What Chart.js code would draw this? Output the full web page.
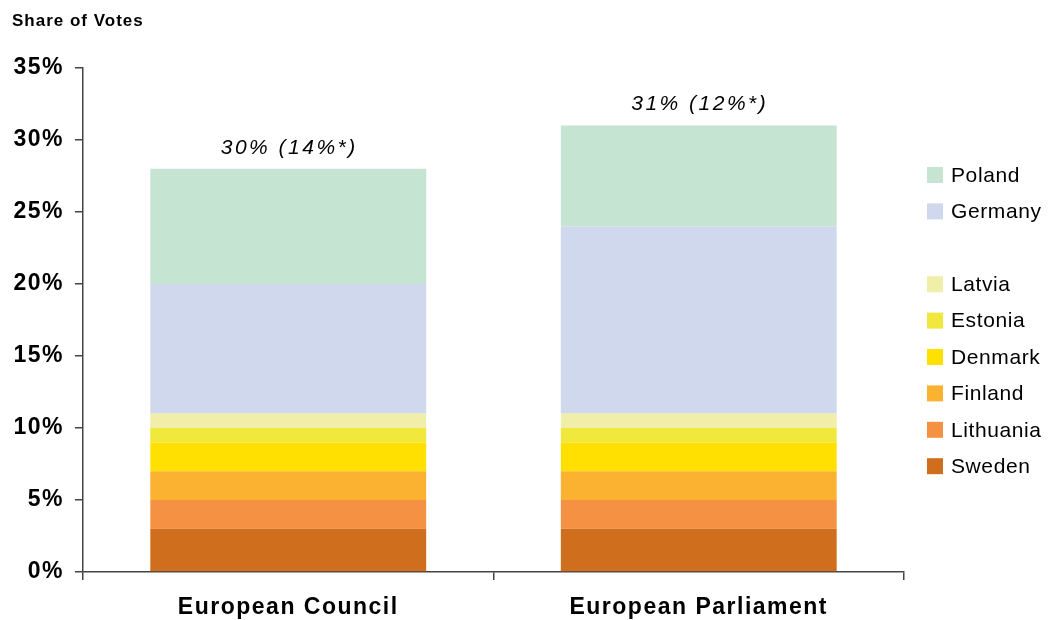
<!DOCTYPE html>
<html>
<head>
<meta charset="utf-8">
<script src="https://cdn.jsdelivr.net/npm/chart.js@4/dist/chart.umd.min.js"></script>
<style>
  html, body { margin: 0; padding: 0; background: #ffffff; }
  #wrap { width: 1055px; height: 620px; position: relative; }
</style>
</head>
<body>
<div id="wrap"><canvas id="chart"></canvas></div>
<script>
// Institutions compared
const categories = ['European Council', 'European Parliament'];

// Share of votes per country (%), bottom to top of each stack
const sweden    = [3, 3];
const lithuania = [2, 2];
const finland   = [2, 2];
const denmark   = [2, 2];
const estonia   = [1, 1];
const latvia    = [1, 1];
const germany   = [9, 13];
const poland    = [8, 7];

// Headline labels above each stack
const totalLabels = ['30% (14%*)', '31% (12%*)'];

// Legend layout: two groups separated by a blank row
const legendGroups = [
  ['Poland', 'Germany'],
  ['Latvia', 'Estonia', 'Denmark', 'Finland', 'Lithuania', 'Sweden']
];

const FONT = '"Liberation Sans", Arial, Helvetica, sans-serif';

const series = [
  { label: 'Sweden',    data: sweden,    color: '#cf6e1d' },
  { label: 'Lithuania', data: lithuania, color: '#f49142' },
  { label: 'Finland',   data: finland,   color: '#fcb231' },
  { label: 'Denmark',   data: denmark,   color: '#ffe000' },
  { label: 'Estonia',   data: estonia,   color: '#f0e83c' },
  { label: 'Latvia',    data: latvia,    color: '#f0eea8' },
  { label: 'Germany',   data: germany,   color: '#cfd8ec' },
  { label: 'Poland',    data: poland,    color: '#c6e4d2' }
];

// Widen letter spacing for axis text and draw the free-standing labels
const decorations = {
  id: 'decorations',
  beforeDraw(chart) {
    chart.ctx.letterSpacing = '1.5px';
  },
  afterDraw(chart) {
    const ctx = chart.ctx;
    const xs = chart.scales.x, ys = chart.scales.y;
    ctx.save();

    // Axis caption
    ctx.letterSpacing = '1px';
    ctx.fillStyle = '#000';
    ctx.font = 'bold 17px ' + FONT;
    ctx.textAlign = 'left';
    ctx.textBaseline = 'middle';
    ctx.fillText('Share of Votes', 12, 21);

    // Labels above each stack
    ctx.letterSpacing = '2.5px';
    ctx.font = 'italic 21px ' + FONT;
    ctx.textAlign = 'center';
    categories.forEach((c, i) => {
      const total = series.reduce((s, d) => s + d.data[i], 0);
      const x = xs.getPixelForValue(i);
      const y = ys.getPixelForValue(total) - 21;
      ctx.fillText(totalLabels[i], x + 1, y);
    });

    // Legend
    ctx.letterSpacing = '0.6px';
    ctx.font = '21px ' + FONT;
    ctx.textAlign = 'left';
    const step = 36.4;
    let y = 175;
    legendGroups.forEach((group, g) => {
      if (g > 0) y += step;
      group.forEach(name => {
        const s = series.find(d => d.label === name);
        ctx.fillStyle = s.color;
        ctx.fillRect(927, y - 8, 16, 16);
        ctx.fillStyle = '#000';
        ctx.fillText(name, 951, y + 1);
        y += step;
      });
    });
    ctx.restore();
  }
};

new Chart(document.getElementById('chart'), {
  type: 'bar',
  data: {
    labels: categories,
    datasets: series.map(s => ({
      label: s.label,
      data: s.data,
      backgroundColor: s.color,
      borderWidth: 0,
      barPercentage: 1,
      categoryPercentage: 0.672
    }))
  },
  options: {
    responsive: true,
    maintainAspectRatio: false,
    animation: false,
    layout: { padding: { top: 68, right: 151, bottom: 0, left: 0 } },
    plugins: {
      legend: { display: false },
      title: { display: false },
      tooltip: { enabled: false }
    },
    scales: {
      x: {
        stacked: true,
        afterFit(scale) { scale.height = 48; },
        grid: {
          offset: true,
          drawOnChartArea: false,
          drawTicks: true,
          tickLength: 8,
          color: '#444444',
          lineWidth: 1.5
        },
        border: { display: true, color: '#444444', width: 1.5 },
        ticks: {
          color: '#000',
          padding: 14,
          font: { family: FONT, size: 23, weight: 'bold' }
        }
      },
      y: {
        stacked: true,
        min: 0,
        max: 35,
        afterFit(scale) { scale.width = 83; },
        grid: {
          drawOnChartArea: false,
          drawTicks: true,
          tickLength: 8,
          color: '#444444',
          lineWidth: 1.5
        },
        border: { display: true, color: '#444444', width: 1.5 },
        ticks: {
          stepSize: 5,
          color: '#000',
          padding: 11,
          font: { family: FONT, size: 23, weight: 'bold' },
          callback: v => v + '%'
        }
      }
    }
  },
  plugins: [decorations]
});
</script>
</body>
</html>
